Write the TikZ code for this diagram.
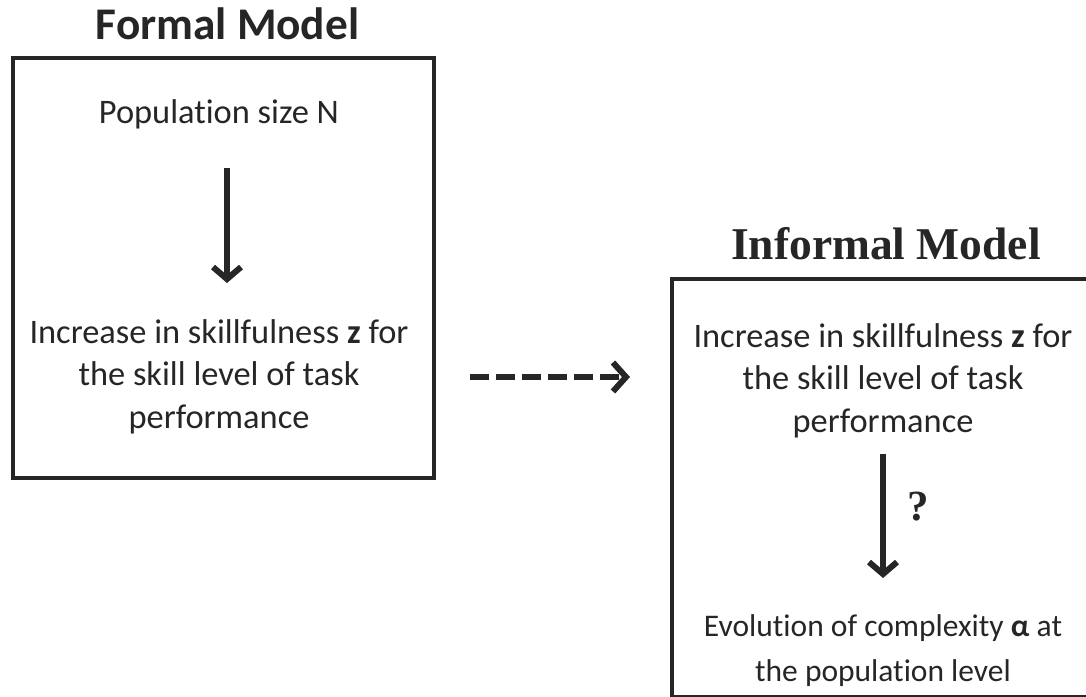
\documentclass[tikz,border=0pt]{standalone}
\usepackage{fontspec}
\setmainfont[Ligatures=NoCommon]{Carlito}
\newfontfamily\timesfont{Liberation Serif}
\usetikzlibrary{arrows.meta,positioning}
\definecolor{inkgray}{HTML}{262626}
\tikzset{
  modelbox/.style={draw=inkgray, line width=4.5pt, inner sep=0pt},
  bodytext/.style={text=inkgray, inner sep=0pt, align=center, font=\fontsize{34.4}{42.5}\selectfont},
  titletext/.style={text=inkgray, inner sep=0pt, font=\fontsize{45.3}{50}\selectfont\bfseries},
  flowarrow/.style={draw=inkgray, line width=6pt, -{Straight Barb[length=12pt,width=28pt]}},
}
\begin{document}
\begin{tikzpicture}[x=1pt,y=-1pt]
  \useasboundingbox (0,0) rectangle (1086,696);
  \clip (0,0) rectangle (1086,696);

  % formal model
  \node[modelbox, minimum width=421pt, minimum height=420pt] (formal) at (223.5,268) {};
  \node[titletext, above=15.5pt of formal.north, xshift=4pt] (formaltitle) {Formal Model};
  \node[bodytext, anchor=base] (popN) at (219,123) {Population size N};
  \node[bodytext, anchor=north] (incL) at (219,319) {Increase in skillfulness \textbf{z} for\\the skill level of task\\performance};
  \draw[flowarrow, shorten <=39pt, shorten >=36pt] ([xshift=8pt]popN.south) -- ([xshift=8pt]incL.north);

  % informal model
  \node[modelbox, minimum width=428pt, minimum height=418pt] (informal) at (886,488) {};
  \node[titletext, font=\timesfont\fontsize{45.5}{50}\selectfont\bfseries, above=16.5pt of informal.north] (informaltitle) {Informal Model};
  \node[bodytext, anchor=north] (incR) at (883,323) {Increase in skillfulness \textbf{z} for\\the skill level of task\\performance};
  \node[bodytext, font=\fontsize{31.5}{45}\selectfont, anchor=north] (evo) at (883,614) {Evolution of complexity \textbf{α} at\\the population level};
  \draw[flowarrow, shorten <=16pt, shorten >=36pt] (incR.south) -- (evo.north)
    node[pos=0.39, right=21pt, titletext, font=\timesfont\fontsize{43}{48}\selectfont\bfseries] (qmark) {?};

  % link between the two
  \coordinate (dashstart) at (470,377);
  \coordinate (dashend) at (630,377);
  \draw[flowarrow, dash pattern=on 19pt off 7pt, -{Straight Barb[length=13pt,width=29pt]}] (dashstart) -- (dashend);

\end{tikzpicture}
\end{document}
